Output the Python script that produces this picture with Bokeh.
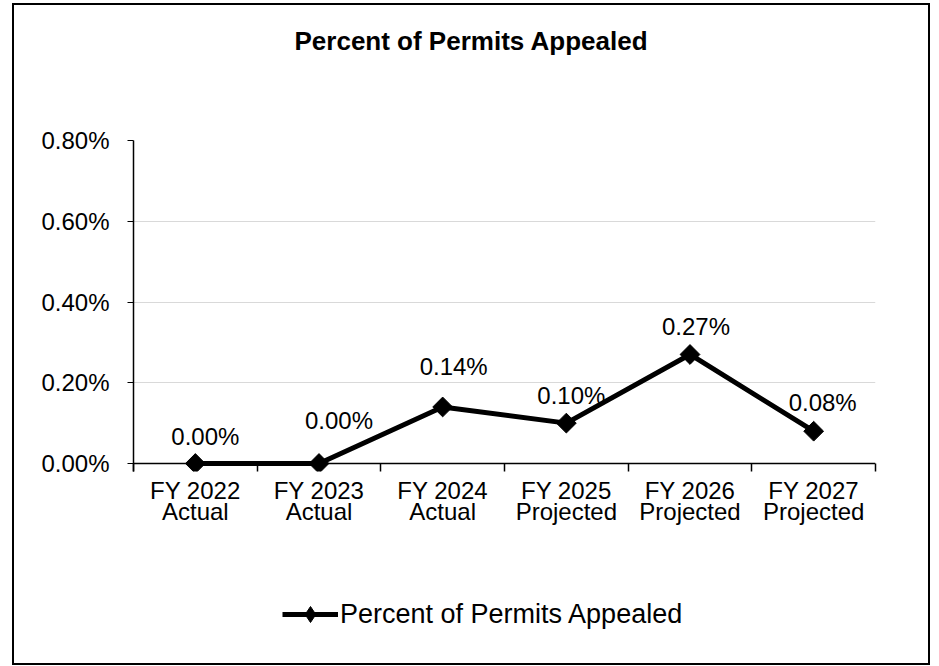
from bokeh.plotting import figure
from bokeh.layouts import column
from bokeh.models import (Range1d, FixedTicker, NumeralTickFormatter, Label, Legend,
                          LegendItem, Span)
from bokeh.embed import file_html
from bokeh.resources import INLINE

title = "Percent of Permits Appealed"
categories = ["FY 2022\nActual", "FY 2023\nActual", "FY 2024\nActual",
              "FY 2025\nProjected", "FY 2026\nProjected", "FY 2027\nProjected"]
values = [0.0, 0.0, 0.0014, 0.0010, 0.0027, 0.0008]
value_labels = ["0.00%", "0.00%", "0.14%", "0.10%", "0.27%", "0.08%"]
y_ticks = [0.0, 0.002, 0.004, 0.006, 0.008]

# data-label offsets in px (layout only)
label_dx = [10, 20, 11, 5, 6, 9]
label_dy = [27, 43, 40, 28, 28, 29]

FONT = "Liberation Sans"
n = len(categories)
xs = [i + 0.5 for i in range(n)]
W = 914
FRAME_W = 742          # plot frame width; the strips share the same frame columns

Y_MAX = 0.008
PX_PER_UNIT = 323 / Y_MAX
BELOW = 8                      # px of frame kept below zero so markers show
Y_MIN = -BELOW / PX_PER_UNIT


def blank_strip(height):
    f = figure(width=W, height=height, output_backend="svg", toolbar_location=None,
               title=None, x_range=Range1d(0, FRAME_W), y_range=Range1d(0, height),
               x_axis_location=None, y_axis_location=None, min_border=0)
    f.outline_line_color = None
    f.grid.visible = False
    f.background_fill_color = "white"
    f.border_fill_color = "white"
    return f


# ---- title strip ----
TH = 70
pt = blank_strip(TH)
pt.add_layout(Label(x=338, y=TH - 35, text=title, text_align="center",
                    text_baseline="middle", text_font=FONT, text_font_size="26px",
                    text_font_style="bold", text_color="black"))

# ---- main chart ----
MH = 470
FRAME_H = 323 + BELOW
p = figure(width=W, height=MH, output_backend="svg", toolbar_location=None,
           title=None, x_range=Range1d(0, n), y_range=Range1d(Y_MIN, Y_MAX),
           min_border_left=119, min_border_right=53, min_border_top=65,
           min_border_bottom=MH - 65 - FRAME_H)
p.outline_line_color = None
p.background_fill_color = "white"
p.border_fill_color = "white"

p.xgrid.visible = False
p.ygrid.grid_line_color = "#d9d9d9"
p.ygrid.grid_line_width = 1
p.ygrid.ticker = FixedTicker(ticks=y_ticks[1:])

p.add_layout(Span(location=0, dimension="width", line_color="black", line_width=1.5))

ln = p.line(xs, values, line_color="black", line_width=5)
sc = p.scatter(xs, values, marker="square", angle=0.785398, size=14,
               fill_color="black", line_color="black")

for x, v, t, dx, dy in zip(xs, values, value_labels, label_dx, label_dy):
    p.add_layout(Label(x=x, y=v, text=t, x_offset=dx, y_offset=dy,
                       text_align="center", text_baseline="middle",
                       text_font=FONT, text_font_size="24px", text_color="black"))

ya = p.yaxis[0]
ya.ticker = FixedTicker(ticks=y_ticks)
ya.formatter = NumeralTickFormatter(format="0.00%")
ya.axis_line_color = "black"
ya.axis_line_width = 1.5
ya.major_tick_line_color = "black"
ya.major_tick_out = 6
ya.major_tick_in = 0
ya.minor_tick_line_color = None
ya.major_label_standoff = 18
ya.major_label_text_font = FONT
ya.major_label_text_font_size = "24px"
ya.major_label_text_color = "black"

xa = p.xaxis[0]
xa.ticker = FixedTicker(ticks=xs, minor_ticks=list(range(n + 1)))
xa.major_label_overrides = {x: c for x, c in zip(xs, categories)}
xa.axis_line_color = None
xa.major_tick_line_color = None
xa.major_tick_out = 0
xa.major_tick_in = 0
xa.minor_tick_line_color = "black"
xa.minor_tick_line_width = 1.5
xa.minor_tick_out = 0
xa.minor_tick_in = BELOW
xa.major_label_standoff = 5
xa.major_label_text_font = FONT
xa.major_label_text_font_size = "24px"
xa.major_label_text_color = "black"
xa.major_label_text_line_height = 0.8

# ---- legend strip ----
LH = 118
pl = blank_strip(LH)
# legend sample drawn off the visible range; only its legend glyph shows
lln = pl.line([-50, -40], [-50, -50], line_color="black", line_width=5)
lsc = pl.scatter([-45], [-50], marker="diamond", size=16,
                 fill_color="black", line_color="black")
legend = Legend(items=[LegendItem(label=title, renderers=[lln, lsc])],
                location=(149, 29), orientation="horizontal",
                label_text_font=FONT, label_text_font_size="27px",
                label_text_color="black",
                label_standoff=2, glyph_width=56, glyph_height=40,
                label_height=40, padding=0, margin=0, spacing=0,
                border_line_color=None, background_fill_alpha=0)
pl.add_layout(legend, "center")

layout = column(pt, p, pl, spacing=0,
                styles={"border": "2px solid black", "margin-left": "12px",
                        "margin-top": "3px"})

open("out.html", "w").write(file_html(layout, INLINE))
